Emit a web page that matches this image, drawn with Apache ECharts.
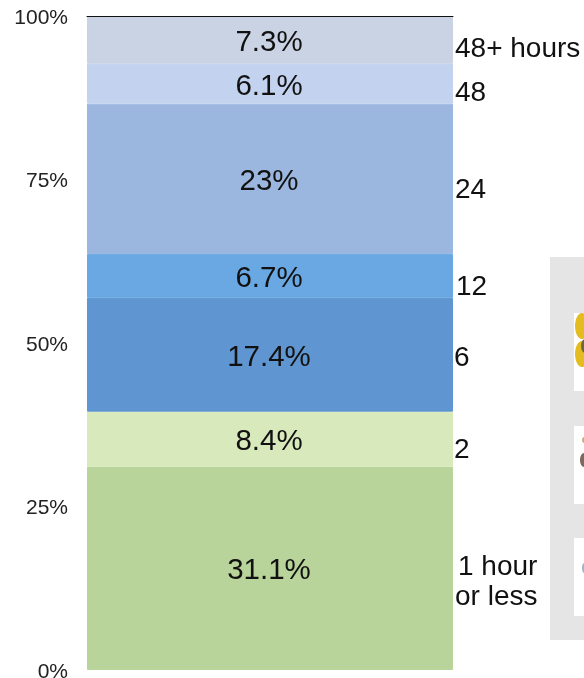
<!DOCTYPE html>
<html>
<head>
<meta charset="utf-8">
<style>html,body{margin:0;padding:0;background:#fff}#c{width:584px;height:678px}</style>
<script src="https://cdn.jsdelivr.net/npm/echarts@6/dist/echarts.min.js"></script>
</head>
<body>
<div id="c"></div>
<script>
const categories = ['All'];
const durations = ['1 hour or less', '2', '6', '12', '24', '48', '48+ hours'];
const shares = [31.1, 8.4, 17.4, 6.7, 23, 6.1, 7.3];
const shareLabels = ['31.1%', '8.4%', '17.4%', '6.7%', '23%', '6.1%', '7.3%'];
const colors = ['#B8D49A', '#D8EABB', '#5F95D0', '#69A8E3', '#9CB7DF', '#C3D2EE', '#C9D3E3'];
const tickValues = [0, 25, 50, 75, 100];

const font = '"Liberation Sans", Arial, sans-serif';
const sideText = (text, x, y) => ({
  type: 'text', x, y,
  style: { text, fill: '#111', font: '28px ' + font, textVerticalAlign: 'middle', lineHeight: 30 }
});
const box = (x, y, width, height, fill) => ({
  type: 'rect', shape: { x, y, width, height }, style: { fill }, silent: true
});
const dot = (cx, cy, rx, ry, fill) => ({
  type: 'ellipse', shape: { cx, cy, rx, ry }, style: { fill }, silent: true
});

const chart = echarts.init(document.getElementById('c'), null, { renderer: 'canvas' });
chart.setOption({
  animation: false,
  backgroundColor: '#fff',
  grid: { left: 87, right: 131, top: 16, height: 654, outerBoundsMode: 'none' },
  xAxis: {
    type: 'category', data: categories, position: 'top', z: 10,
    axisLine: { show: true, onZero: false, lineStyle: { color: '#111', width: 1 } },
    axisTick: { show: false }, axisLabel: { show: false }
  },
  yAxis: {
    type: 'value', min: 0, max: 100, interval: 25,
    axisLine: { show: false }, axisTick: { show: false }, splitLine: { show: false },
    axisLabel: {
      margin: 19, fontFamily: font, fontSize: 21, color: '#222',
      verticalAlign: 'top', lineHeight: 4,
      formatter: v => tickValues.includes(v) ? v + '%' : ''
    }
  },
  series: durations.map((name, i) => ({
    name, type: 'bar', stack: 'total', barWidth: '100%',
    data: [shares[i]],
    itemStyle: { color: colors[i], borderColor: colors[i], borderWidth: 1 },
    label: {
      show: true, position: 'inside', formatter: shareLabels[i], offset: [-1, 3],
      fontFamily: font, fontSize: 29.5, color: '#111'
    }
  })),
  graphic: [
    sideText('48+ hours', 455, 49),
    sideText('48', 455, 93),
    sideText('24', 455, 190),
    sideText('12', 456, 287),
    sideText('6', 454, 358),
    sideText('2', 454, 450),
    sideText('1 hour', 458, 567),
    sideText('or less', 455, 597),
    box(550, 257, 34, 383, '#E5E5E5'),
    box(574, 313, 10, 78, '#FFFFFF'),
    box(574, 426, 10, 78, '#FFFFFF'),
    box(574, 538, 10, 78, '#FFFFFF'),
    dot(582, 326, 7, 13, '#E4BC1F'),
    dot(582, 354, 7, 13, '#E4BC1F'),
    dot(585, 346, 4, 7, '#6A6A3A'),
    dot(584, 460, 4, 7, '#7A6A60'),
    dot(584, 440, 2, 3, '#C9B070'),
    dot(584, 568, 2, 5, '#9DB4D0')
  ]
});
</script>
</body>
</html>
